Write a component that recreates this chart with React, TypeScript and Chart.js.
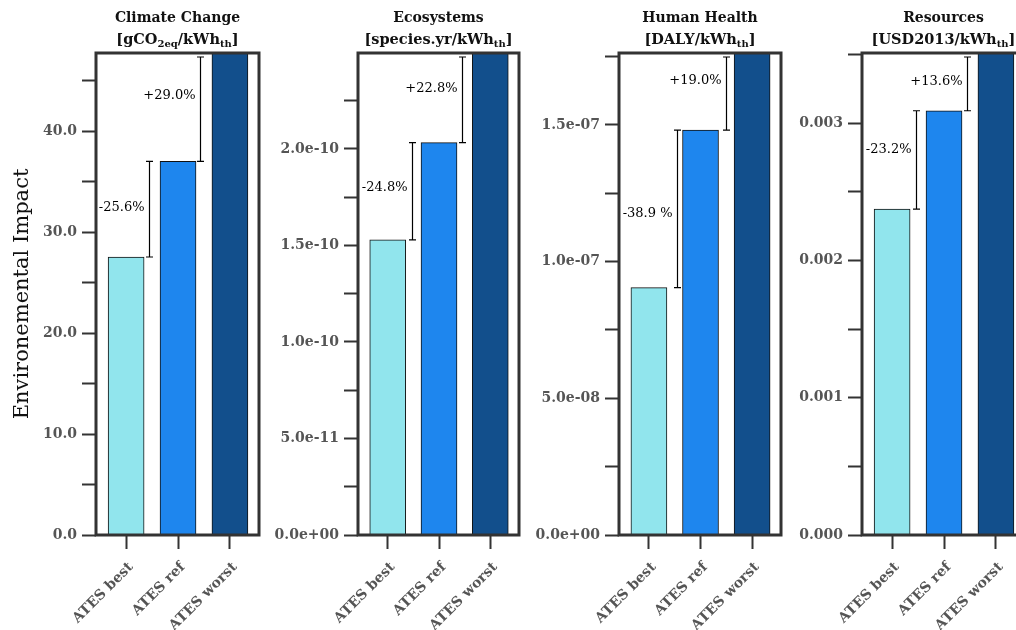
import React, { useEffect, useRef } from "react";
import { Chart, registerables } from "chart.js";

Chart.register(...registerables);

// ---------- data ----------
const categories = ["ATES best", "ATES ref", "ATES worst"];
const barColors = ["#91E5ED", "#1E86EE", "#124F8C"];

const panelTitles = ["Climate Change", "Ecosystems", "Human Health", "Resources"];
// unit lines: [text, isSubscript]
const climateUnit: [string, boolean][] = [["[gCO", false], ["2eq", true], ["/kWh", false], ["th", true], ["]", false]];
const ecosystemUnit: [string, boolean][] = [["[species.yr/kWh", false], ["th", true], ["]", false]];
const healthUnit: [string, boolean][] = [["[DALY/kWh", false], ["th", true], ["]", false]];
const resourceUnit: [string, boolean][] = [["[USD2013/kWh", false], ["th", true], ["]", false]];

const climateValues = [27.53, 37.0, 47.73];
const ecosystemValues = [1.529e-10, 2.033e-10, 2.497e-10];
const healthValues = [9.05e-8, 1.481e-7, 1.763e-7];
const resourceValues = [2.375e-3, 3.092e-3, 3.513e-3];

const bestVsRefLabels = ["-25.6%", "-24.8%", "-38.9 %", "-23.2%"];
const worstVsRefLabels = ["+29.0%", "+22.8%", "+19.0%", "+13.6%"];

const minorSteps = [5, 2.5e-11, 2.5e-8, 0.0005];
const tickFormats = ["fixed1", "sci", "sci", "fixed3"];
const yAxisTitle = "Environemental Impact";

// ---------- layout (pixels) ----------
const W = 1016;
const H = 630;
const plotTop = 53;
const plotBottom = 535;
const yAxisWidth = 96;
const plotLefts = [96, 358, 619, 862];
const plotRights = [259, 519, 781, 1025];
const labelShifts = [
  [-2, -14],
  [-4, -11],
  [5, -13],
  [-10, -2],
];
const lineOffsets = [
  [23, 22],
  [24, 23],
  [28, 25],
  [24, 23],
];
const FONT = '"DejaVu Serif", serif';

function formatTick(v: number, kind: string): string {
  if (kind === "fixed1") return v.toFixed(1);
  if (kind === "fixed3") return v.toFixed(3);
  const s = v.toExponential(1);
  const [m, e] = s.split("e");
  const sign = e[0] === "-" ? "-" : "+";
  const digits = e.replace(/^[+-]/, "").padStart(2, "0");
  return `${m}e${sign}${digits}`;
}

interface PanelProps {
  idx: number;
  values: number[];
  unit: [string, boolean][];
}

function Panel({ idx, values, unit }: PanelProps) {
  const ref = useRef<HTMLCanvasElement | null>(null);
  const canvasLeft = plotLefts[idx] - yAxisWidth;
  const canvasWidth = plotRights[idx] - canvasLeft + 4;

  useEffect(() => {
    if (!ref.current) return;
    const step = minorSteps[idx];
    const yMax = values[values.length - 1];
    const barThickness = 36;

    const decor = {
      id: "panelDecor",
      afterDatasetsDraw(chart: any) {
        const ctx = chart.ctx as CanvasRenderingContext2D;
        const area = chart.chartArea;
        const xs = chart.scales.x;
        const ys = chart.scales.y;
        ctx.save();
        const pairs = [
          { from: 0, to: 1, label: bestVsRefLabels[idx], shift: labelShifts[idx][0], off: lineOffsets[idx][0] },
          { from: 1, to: 2, label: worstVsRefLabels[idx], shift: labelShifts[idx][1], off: lineOffsets[idx][1] },
        ];
        ctx.strokeStyle = "#000";
        ctx.fillStyle = "#000";
        ctx.lineWidth = 1.2;
        for (const p of pairs) {
          const x = Math.round(xs.getPixelForValue(p.from) + p.off) + 0.5;
          const yA = ys.getPixelForValue(values[p.from]);
          const yB = Math.max(ys.getPixelForValue(values[p.to]), area.top + 4);
          ctx.beginPath();
          ctx.moveTo(x, yA);
          ctx.lineTo(x, yB);
          ctx.moveTo(x - 3.5, yA);
          ctx.lineTo(x + 3.5, yA);
          ctx.moveTo(x - 3.5, yB);
          ctx.lineTo(x + 3.5, yB);
          ctx.stroke();
          ctx.font = `13px ${FONT}`;
          ctx.textAlign = "right";
          ctx.textBaseline = "middle";
          ctx.fillText(p.label, x - 5, (yA + yB) / 2 + p.shift);
        }
        ctx.strokeStyle = "#333";
        ctx.lineWidth = 3;
        ctx.strokeRect(area.left, area.top, area.right - area.left, area.bottom - area.top);
        ctx.restore();
      },
      afterDraw(chart: any) {
        const ctx = chart.ctx as CanvasRenderingContext2D;
        const area = chart.chartArea;
        const cx = (area.left + area.right) / 2;
        ctx.save();
        ctx.fillStyle = "#111";
        ctx.textBaseline = "alphabetic";
        ctx.textAlign = "center";
        ctx.font = `bold 14px ${FONT}`;
        ctx.fillText(panelTitles[idx], cx, 22);
        const mainFont = `bold 14.5px ${FONT}`;
        const subFont = `bold 10px ${FONT}`;
        let total = 0;
        const widths = unit.map(([t, sub]) => {
          ctx.font = sub ? subFont : mainFont;
          const w = ctx.measureText(t).width;
          total += w;
          return w;
        });
        let x = cx - total / 2;
        ctx.textAlign = "left";
        unit.forEach(([t, sub], i) => {
          ctx.font = sub ? subFont : mainFont;
          ctx.fillText(t, x, sub ? 47 : 44);
          x += widths[i];
        });
        ctx.restore();
      },
    };

    const chart = new Chart(ref.current, {
      type: "bar",
      data: {
        datasets: [
          {
            data: values.map((v, i) => ({ x: i, y: v })),
            backgroundColor: barColors,
            borderColor: "#111",
            borderWidth: 1,
            barThickness,
          } as any,
        ],
      },
      options: {
        responsive: false,
        animation: false,
        devicePixelRatio: 1,
        layout: { padding: { top: plotTop, right: 4, left: 0, bottom: 0 } },
        plugins: { legend: { display: false }, tooltip: { enabled: false }, title: { display: false } },
        scales: {
          x: {
            type: "linear",
            offset: false,
            min: -0.58,
            max: 2.56,
            afterBuildTicks: (scale: any) => {
              scale.ticks = categories.map((_, i) => ({ value: i }));
            },
            afterFit: (scale: any) => {
              scale.height = H - plotBottom;
            },
            grid: {
              offset: false,
              drawOnChartArea: false,
              drawTicks: true,
              tickLength: 14,
              tickWidth: 2,
              tickColor: "#333",
            },
            border: { display: false },
            ticks: {
              autoSkip: false,
              minRotation: 45,
              maxRotation: 45,
              padding: 10,
              labelOffset: 5,
              color: "#555",
              font: { family: FONT, size: 14, weight: "bold" },
              callback: (v: any) => categories[Math.round(Number(v))] ?? "",
            },
          },
          y: {
            type: "linear",
            min: 0,
            max: yMax,
            afterBuildTicks: (scale: any) => {
              const n = Math.floor(yMax / step + 1e-9);
              const t = [];
              for (let k = 0; k <= n; k++) t.push({ value: k * step });
              scale.ticks = t;
            },
            afterFit: (scale: any) => {
              scale.width = yAxisWidth;
            },
            grid: {
              drawOnChartArea: false,
              drawTicks: true,
              tickLength: 14,
              tickWidth: 2,
              tickColor: "#333",
            },
            border: { display: false },
            title: {
              display: idx === 0,
              text: yAxisTitle,
              color: "#111",
              font: { family: FONT, size: 21 },
              padding: { top: 10, bottom: 0 },
            },
            ticks: {
              padding: 5,
              autoSkip: false,
              color: "#555",
              font: { family: FONT, size: 14, weight: "bold" },
              callback: (v: any, i: number) => (i % 2 === 0 ? formatTick(Number(v), tickFormats[idx]) : ""),
            },
          },
        },
      },
      plugins: [decor],
    } as any);
    return () => chart.destroy();
  }, [idx, values, unit]);

  return (
    <canvas
      ref={ref}
      width={canvasWidth}
      height={H}
      style={{ position: "absolute", left: canvasLeft, top: 0, width: canvasWidth, height: H }}
    />
  );
}

export default function App() {
  return (
    <div
      style={{
        position: "absolute",
        left: 0,
        top: 0,
        width: W,
        height: H,
        overflow: "hidden",
        background: "#fff",
      }}
    >
      <Panel idx={0} values={climateValues} unit={climateUnit} />
      <Panel idx={1} values={ecosystemValues} unit={ecosystemUnit} />
      <Panel idx={2} values={healthValues} unit={healthUnit} />
      <Panel idx={3} values={resourceValues} unit={resourceUnit} />
    </div>
  );
}
